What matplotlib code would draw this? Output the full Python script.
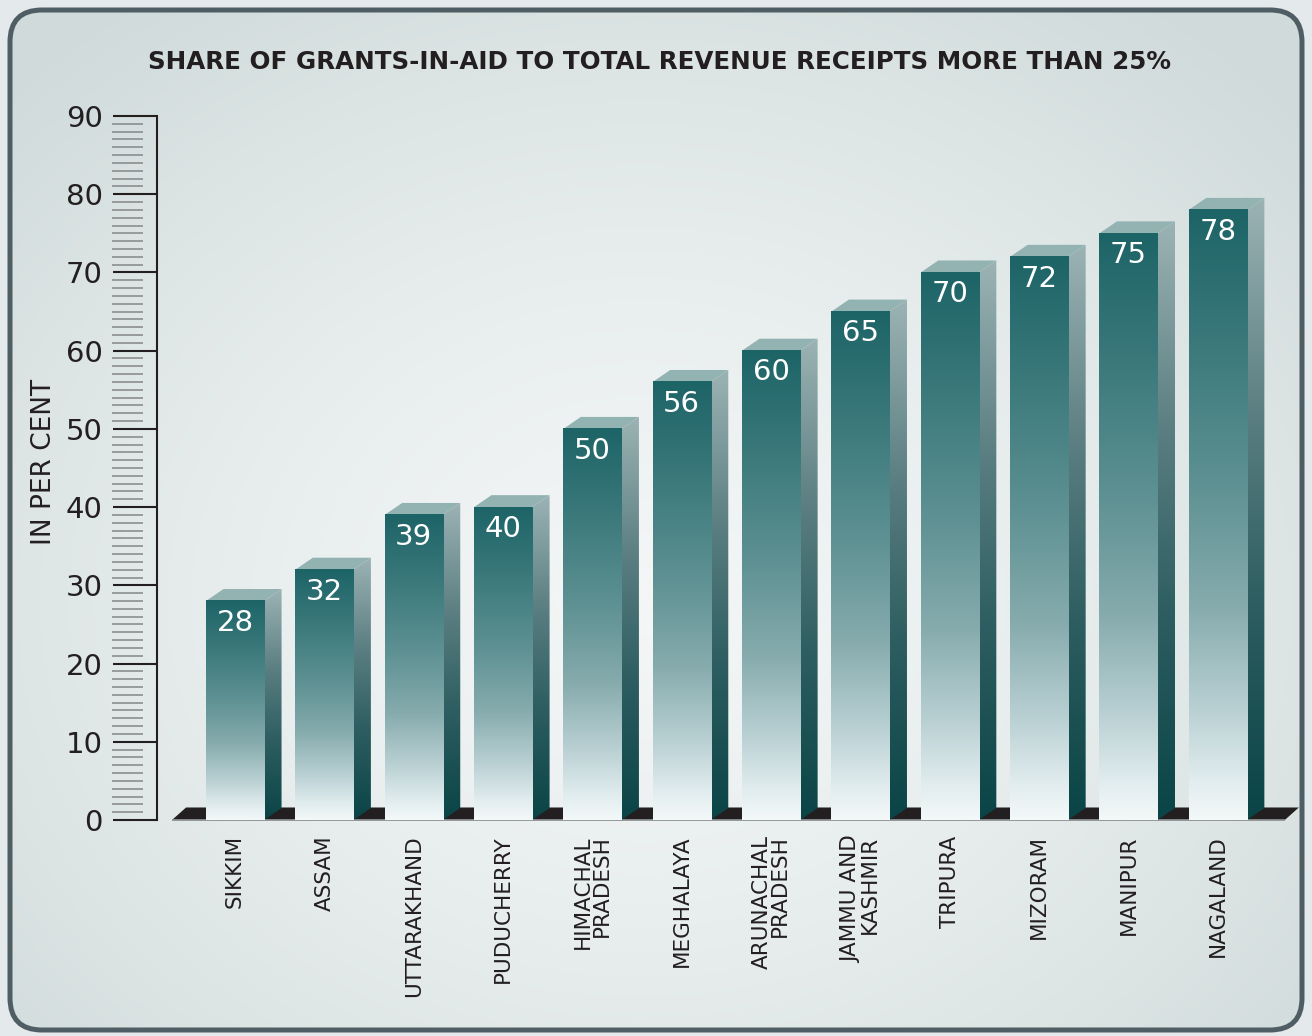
"""Grants-in-aid share bar chart, pseudo-3D bars on a soft panel."""

import matplotlib

matplotlib.use("Agg")
import matplotlib.pyplot as plt
import numpy as np
from matplotlib.colors import LinearSegmentedColormap
from matplotlib.patches import FancyBboxPatch, Polygon

states = [
    "SIKKIM", "ASSAM", "UTTARAKHAND", "PUDUCHERRY", "HIMACHAL\nPRADESH",
    "MEGHALAYA", "ARUNACHAL\nPRADESH", "JAMMU AND\nKASHMIR", "TRIPURA",
    "MIZORAM", "MANIPUR", "NAGALAND",
]
share = [28, 32, 39, 40, 50, 56, 60, 65, 70, 72, 75, 78]
yticks = list(range(0, 91, 10))

TITLE = "SHARE OF GRANTS-IN-AID TO TOTAL REVENUE RECEIPTS MORE THAN 25%"
INK = "#231f20"

W, H, DPI = 1312, 1036, 100
plt.rcParams["font.family"] = ["DejaVu Sans"]

fig = plt.figure(figsize=(W / DPI, H / DPI), dpi=DPI)
fig.patch.set_facecolor("#e4e9eb")

# background panel: radial gradient inside a rounded frame
bg = fig.add_axes([0, 0, 1, 1], zorder=0)
bg.set_xlim(0, W)
bg.set_ylim(H, 0)
bg.axis("off")
yy, xx = np.mgrid[0:H:4, 0:W:4]
r = np.hypot((xx - 640) / 900, (yy - 600) / 750)
bg_cmap = LinearSegmentedColormap.from_list("bg", ["#f5f7f7", "#e6ecec", "#d0dada"])
frame = FancyBboxPatch((10, 10), W - 20, H - 16, boxstyle="round,pad=0,rounding_size=32",
                       facecolor="none", edgecolor="#4f5e64", linewidth=3.6, zorder=3)
bg.add_patch(frame)
img = bg.imshow(np.clip(r, 0, 1), extent=(0, W, H, 0), cmap=bg_cmap, vmin=0, vmax=1,
                aspect="auto", zorder=1)
img.set_clip_path(frame)

# main axes, y=0 at px 820, y=90 at px 116
ax = fig.add_axes([157 / W, (H - 820) / H, (1300 - 157) / W, (820 - 116) / H], zorder=1)
ax.set_facecolor("none")

xpos = np.arange(len(share))
bw = 0.65
dx, dy = 0.196, 1.53
front_cmap = LinearSegmentedColormap.from_list(
    "front", [(0.0, "#f3f8f8"), (0.06, "#e2edef"), (0.18, "#b9d0d3"), (0.35, "#86abad"),
              (0.55, "#5e9193"), (0.78, "#3b797b"), (1.0, "#1d6467")])
side_cmap = LinearSegmentedColormap.from_list(
    "side", [(0.0, "#0a4446"), (0.35, "#2e5e61"), (0.65, "#5a7e81"), (1.0, "#9cb3b4")])
grad = np.linspace(0, 1, 256)[:, None]

# floor slab under the bars
fx0, fx1 = xpos[0] - 0.705, xpos[-1] + 0.75
fdx, fdy = 0.157, 1.6
ax.add_patch(Polygon([(fx0, 0), (fx1, 0), (fx1 + fdx, fdy), (fx0 + fdx, fdy)],
                     closed=True, facecolor=INK, edgecolor="none", zorder=2, clip_on=False))
ax.hlines(0, fx0, fx1, color="#8c9192", linewidth=1.3, zorder=2.5, clip_on=False)

for xc, v in zip(xpos, share):
    x0, x1 = xc - bw / 2, xc + bw / 2
    ax.imshow(grad, extent=(x0, x1, 0, v), origin="lower", cmap=front_cmap,
              aspect="auto", zorder=4, interpolation="bilinear")
    side = Polygon([(x1, 0), (x1 + dx, dy), (x1 + dx, v + dy), (x1, v)], closed=True,
                   facecolor="none", edgecolor="none", zorder=3)
    ax.add_patch(side)
    s_img = ax.imshow(grad, extent=(x1, x1 + dx, 0, v + dy), origin="lower",
                      cmap=side_cmap, aspect="auto", zorder=3, interpolation="bilinear")
    s_img.set_clip_path(side)
    ax.add_patch(Polygon([(x0, v), (x1, v), (x1 + dx, v + dy), (x0 + dx, v + dy)],
                         closed=True, facecolor="#93b3b2", edgecolor="none", zorder=3))
    ax.text(xc, v - 1.0, f"{v}", ha="center", va="top", color="white",
            fontsize=21, zorder=5)

ax.set_xlim(-0.873, 11.92)
ax.set_ylim(0, 90)

for side_name in ("top", "right", "bottom"):
    ax.spines[side_name].set_visible(False)
ax.spines["left"].set_color(INK)
ax.spines["left"].set_linewidth(1.5)

ax.set_yticks(yticks)
ax.tick_params(axis="y", length=32, width=1.5, color=INK, pad=7, labelsize=21,
               labelcolor=INK)
minor = [m for m in range(0, 91) if m % 10]
ax.hlines(minor, -0.0394, -0.0122, transform=ax.get_yaxis_transform(),
          color="#8a8e8f", linewidth=1.2, clip_on=False)

ax.set_xticks(xpos, states, rotation=90, fontsize=15.5, color=INK, linespacing=0.88)
ax.tick_params(axis="x", length=0, pad=11)
for lab in ax.get_xticklabels():
    lab.set_multialignment("right")

fig.text(44 / W, 1 - 462 / H, "IN PER CENT", rotation=90, ha="center", va="center",
         fontsize=19, color=INK)
fig.text(659 / W, 1 - 62 / H, TITLE, ha="center", va="center", fontsize=17.7,
         fontweight="bold", color=INK)

fig.savefig("out.png", dpi=DPI)
plt.close(fig)
